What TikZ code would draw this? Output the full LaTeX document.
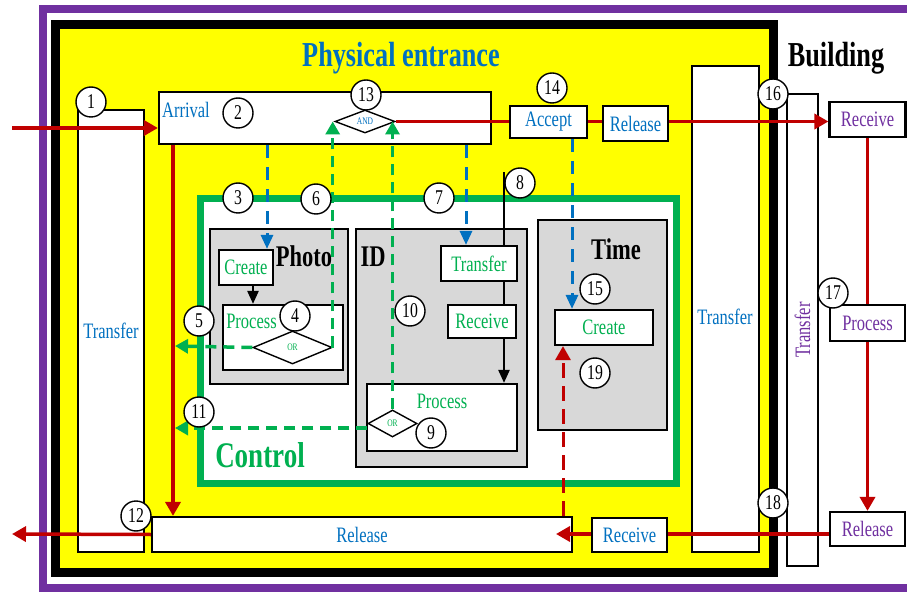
\documentclass[tikz,border=0pt]{standalone}
\usepackage{fontspec}
\setmainfont[FakeStretch=0.75]{Liberation Serif}
\usepackage{tikz}
\usetikzlibrary{calc, arrows.meta, shapes.geometric}
\definecolor{bldPurple}{RGB}{112, 48, 160}
\definecolor{zoneYellow}{RGB}{255, 255, 0}
\definecolor{ctrlGreen}{RGB}{0, 176, 80}
\definecolor{flowRed}{RGB}{192, 0, 0}
\definecolor{infoBlue}{RGB}{0, 112, 192}
\definecolor{panelGray}{RGB}{216, 216, 216}

\begin{document}
\begin{tikzpicture}[x=1pt, y=-1pt,
  box/.style={draw, line width=2.2, fill=white, inner sep=0},
  panel/.style={draw, line width=2.2, fill=panelGray, inner sep=0},
  gate/.style={diamond, draw, line width=1.4, fill=white, inner sep=0, font=\fontsize{10}{10}\selectfont},
  num/.style={circle, draw, line width=1.4, fill=white, minimum size=30, inner sep=0, font=\fontsize{21}{21}\selectfont},
  txt/.style={font=\fontsize{22}{24}\selectfont},
  bl/.style={txt, text=infoBlue},
  gr/.style={txt, text=ctrlGreen},
  pu/.style={txt, text=bldPurple},
  head/.style={font=\fontsize{30}{32}\selectfont\bfseries},
  flow/.style={draw=flowRed, line width=3.5},
  flowarr/.style={flow, -{Triangle[length=14pt, width=15pt]}},
  ctl/.style={draw=ctrlGreen, line width=3.5, dash pattern=on 11pt off 7pt, -{Triangle[length=13pt, width=14pt]}},
  info/.style={draw=infoBlue, line width=3, dash pattern=on 13pt off 9pt, -{Triangle[length=14pt, width=12pt]}},
  blk/.style={line width=2.4},
  blkarr/.style={blk, -{Triangle[length=13pt, width=11pt]}}]
  \clip (0,0) rectangle (907,593);
  % frames
  \draw[bldPurple, line width=8] (43,9) rectangle (930,588);
  \draw[line width=9, fill=zoneYellow] (55,25) rectangle (773,572);
  \draw[ctrlGreen, line width=7, fill=white] (200,199) rectangle (676,483);
  \node[head, font=\fontsize{35}{38}\selectfont\bfseries, text=infoBlue, anchor=base] at (401,67) {Physical entrance};
  \node[head, font=\fontsize{35}{38}\selectfont\bfseries, anchor=base] at (836,67) {Building};
  \node[head, font=\fontsize{36}{38}\selectfont\bfseries, text=ctrlGreen, anchor=base] at (260,467) {Control};

  % physical entrance
  \node[box, bl, minimum width=66, minimum height=442] (trL) at (111,331) {Transfer};
  \node[box, minimum width=332, minimum height=52] (arrival) at (325,118) {};
  \node[bl, anchor=base] at (186,118) {Arrival};
  \node[gate, text=infoBlue, minimum width=60, minimum height=23] (andG) at (365,121.5) {AND};
  \node[box, bl, minimum width=77, minimum height=32] (accept) at (548.5,122) {Accept};
  \node[box, bl, minimum width=65, minimum height=35] (relT) at (635.5,123.5) {Release};
  \node[box, minimum width=67, minimum height=486] (trR) at (725.5,309) {};
  \node[bl] at (725,317) {Transfer};
  \node[box, bl, minimum width=420, minimum height=35] (release) at (362,534.5) {Release};
  \node[box, bl, minimum width=75, minimum height=34] (recvIn) at (629.5,535) {Receive};

  % photo
  \node[panel, minimum width=138, minimum height=155] (photo) at (279,306.5) {};
  \node[head, anchor=base] at (304,267) {Photo};
  \node[box, gr, minimum width=54, minimum height=35] (pCreate) at (246,267.5) {Create};
  \node[box, minimum width=120, minimum height=65] (pProc) at (283,337.5) {};
  \node[gr, anchor=base] at (251.5,329) {Process};
  \node[gate, text=ctrlGreen, minimum width=79, minimum height=33] (pOr) at (292.5,347.5) {OR};

  % id
  \node[panel, minimum width=171, minimum height=238] (idP) at (441.5,348) {};
  \node[head, anchor=base] at (373,267) {ID};
  \node[box, gr, minimum width=76, minimum height=35] (iTrans) at (479,263.5) {Transfer};
  \node[box, gr, minimum width=68, minimum height=33] (iRecv) at (482,321.5) {Receive};
  \node[box, minimum width=150, minimum height=67] (iProc) at (442,417.5) {};
  \node[gr, anchor=base] at (442,408) {Process};
  \node[gate, text=ctrlGreen, minimum width=49, minimum height=27] (iOr) at (392.5,423.5) {OR};

  % time
  \node[panel, minimum width=129, minimum height=210] (timeP) at (602.5,325) {};
  \node[head, anchor=base] at (616,260) {Time};
  \node[box, gr, minimum width=98, minimum height=35] (tCreate) at (604,327.5) {Create};

  % building
  \node[box, minimum width=31, minimum height=472] (bldT) at (802.5,330) {};
  \node[pu, rotate=90] at (bldT) {Transfer};
  \node[box, pu, minimum width=76, minimum height=35] (bRecv) at (867.5,119.5) {Receive};
  \node[box, pu, minimum width=75, minimum height=36] (bProc) at (867.5,323) {Process};
  \node[box, pu, minimum width=75, minimum height=34] (bRel) at (867.5,529) {Release};

  % connectors
  \coordinate (inL) at (12,128);
  \coordinate (outL) at (12,534);
  \coordinate (dnR) at (173,0);
  \coordinate (upR) at (563,0);
  \coordinate (tipR) at (556,534);
  \coordinate (bP) at (267,0);
  \coordinate (bI) at (466,0);
  \coordinate (bT) at (572,0);
  \coordinate (kI) at (504,172);
  \coordinate (kP) at (253,0);
  \coordinate (gL1) at (175,346);
  \coordinate (gL2) at (175,428);

  \draw[flowarr] (inL) -- (inL -| arrival.west);
  \draw[flowarr] (arrival.south -| dnR) -- (release.north -| dnR);
  \draw[flowarr] (release.west) -- (outL);
  \draw[flow] (andG.east) -- (andG.east -| accept.west);
  \draw[flow] (accept.east |- andG.east) -- (relT.west |- andG.east);
  \draw[flowarr] (relT.east |- andG.east) -- (bRecv.west |- andG.east);
  \draw[flow] (bRecv.south) -- (bProc.north);
  \draw[flowarr] (bProc.south) -- (bRel.north);
  \draw[flow] (bRel.west |- tipR) -- (recvIn.east |- tipR);
  \draw[flowarr] (recvIn.west |- tipR) -- (tipR);
  \draw[flowarr, line width=3, dash pattern=on 15pt off 8pt] (release.north -| upR) -- (tCreate.south -| upR);

  \draw[info] (arrival.south -| bP) -- (pCreate.north -| bP);
  \draw[info] (arrival.south -| bI) -- (iTrans.north -| bI);
  \draw[info] (accept.south -| bT) -- (tCreate.north -| bT);

  \draw[blkarr] (pCreate.south -| kP) -- (pProc.north -| kP);
  \draw[blk] (kI) -- (kI |- iTrans.north);
  \draw[blk] (kI |- iTrans.south) -- (kI |- iRecv.north);
  \draw[blkarr] (kI |- iRecv.south) -- (kI |- iProc.north);

  \draw[ctl] (pOr.west) -- (gL1);
  \draw[ctl] (pOr.east) -- (pOr.east |- andG.west);
  \draw[ctl] (iOr.north) -- (iOr.north |- andG.east);
  \draw[ctl] (gL2 -| iOr.west) -- (gL2);

  % step numbers
  \foreach \n/\x/\y in {1/91/102, 2/238/113, 3/238/198, 4/295/316, 5/199/321,
      6/316/199, 7/439/198, 8/520/183, 9/431/433, 10/410/311, 11/199/412,
      12/136/516, 13/366/95, 14/552/88, 15/595/289, 16/773/94, 17/833/293,
      18/773/503, 19/595/373}
    \node[num] (n\n) at (\x,\y) {\n};
\end{tikzpicture}
\end{document}
